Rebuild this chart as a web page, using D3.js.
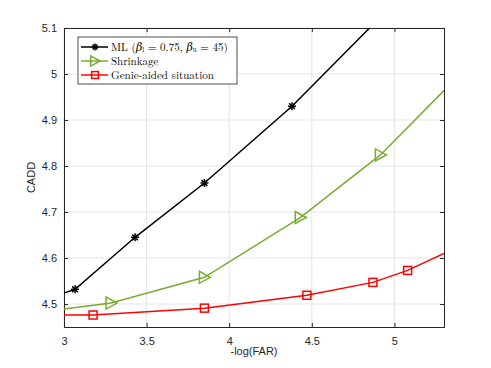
<!DOCTYPE html>
<html>
<head>
<meta charset="utf-8">
<script src="https://cdn.jsdelivr.net/npm/d3@7"></script>
<style>
  body { margin: 0; background: #fff; }
  svg text { font-family: Helvetica, Arial, "Liberation Sans", sans-serif; }
</style>
</head>
<body>
<script>
// series data
const mlX = [3.0, 3.067, 3.43, 3.85, 4.38, 4.96]
const mlY = [4.524, 4.532, 4.645, 4.763, 4.93, 5.14]
const mlMarkX = [3.067, 3.43, 3.85, 4.38]
const mlMarkY = [4.532, 4.645, 4.763, 4.93]

const shX = [3.0, 3.285, 3.85, 4.43, 4.915, 5.3]
const shY = [4.489, 4.502, 4.558, 4.688, 4.824, 4.964]
const shMarkX = [3.285, 3.85, 4.43, 4.915]
const shMarkY = [4.502, 4.558, 4.688, 4.824]

const gaX = [3.0, 3.176, 3.85, 4.47, 4.87, 5.08, 5.3]
const gaY = [4.476, 4.476, 4.491, 4.519, 4.547, 4.573, 4.610]
const gaMarkX = [3.176, 3.85, 4.47, 4.87, 5.08]
const gaMarkY = [4.476, 4.491, 4.519, 4.547, 4.573]

const xTicks = [3, 3.5, 4, 4.5, 5]
const yTicks = [4.5, 4.6, 4.7, 4.8, 4.9, 5, 5.1]

const W = 491, H = 368
const pLeft = 64, pRight = 444, pTop = 28, pBottom = 327
const axisColor = '#262626'

const x = d3.scaleLinear().domain([3, 5.3]).range([pLeft, pRight])
const y = d3.scaleLinear().domain([4.45, 5.1]).range([pBottom, pTop])

const svg = d3.select('body').append('svg').attr('width', W).attr('height', H)

svg.append('defs').append('clipPath').attr('id', 'plot')
  .append('rect').attr('x', pLeft).attr('y', pTop).attr('width', pRight - pLeft).attr('height', pBottom - pTop)

// grid
const grid = svg.append('g').attr('stroke', '#e5e5e5').attr('stroke-width', 1)
xTicks.forEach(t => grid.append('line').attr('x1', x(t)).attr('x2', x(t)).attr('y1', pTop).attr('y2', pBottom))
yTicks.forEach(t => grid.append('line').attr('x1', pLeft).attr('x2', pRight).attr('y1', y(t)).attr('y2', y(t)))

// axes (ticks inside, box)
const xAxis = svg.append('g').attr('transform', `translate(0,${pBottom})`)
  .call(d3.axisBottom(x).tickValues(xTicks).tickSize(-4).tickPadding(10).tickFormat(d3.format('')))
const yAxis = svg.append('g').attr('transform', `translate(${pLeft},0)`)
  .call(d3.axisLeft(y).tickValues(yTicks).tickSize(-4).tickPadding(7).tickFormat(d3.format('')))
const xTop = svg.append('g').attr('transform', `translate(0,${pTop})`)
  .call(d3.axisTop(x).tickValues(xTicks).tickSize(-4).tickFormat(''))
const yRight = svg.append('g').attr('transform', `translate(${pRight},0)`)
  .call(d3.axisRight(y).tickValues(yTicks).tickSize(-4).tickFormat(''))

;[xAxis, yAxis, xTop, yRight].forEach(g => {
  g.select('.domain').attr('stroke', axisColor).attr('stroke-width', 1)
  g.selectAll('.tick line').attr('stroke', axisColor)
  g.selectAll('text').attr('fill', axisColor).style('font-size', '11px')
})

svg.append('text').attr('x', (pLeft + pRight) / 2).attr('y', 355)
  .attr('text-anchor', 'middle').attr('fill', axisColor).style('font-size', '11px').text('-log(FAR)')
svg.append('text').attr('transform', `translate(35,${(pTop + pBottom) / 2}) rotate(-90)`)
  .attr('text-anchor', 'middle').attr('fill', axisColor).style('font-size', '11px').text('CADD')

// markers (k scales the size)
const asterisk = (g, cx, cy, color, k = 1) => {
  const r = 4 * k
  const m = g.append('g').attr('stroke', color).attr('stroke-width', 1.5)
  m.append('line').attr('x1', cx - r).attr('x2', cx + r).attr('y1', cy).attr('y2', cy)
  m.append('line').attr('x1', cx).attr('x2', cx).attr('y1', cy - r).attr('y2', cy + r)
  const d = r * 0.72
  m.append('line').attr('x1', cx - d).attr('x2', cx + d).attr('y1', cy - d).attr('y2', cy + d)
  m.append('line').attr('x1', cx - d).attr('x2', cx + d).attr('y1', cy + d).attr('y2', cy - d)
}
const triangle = (g, cx, cy, color, k = 1) => {
  g.append('path').attr('d', `M${cx + 6 * k},${cy} L${cx - 5 * k},${cy - 6 * k} L${cx - 5 * k},${cy + 6 * k} Z`)
    .attr('fill', 'none').attr('stroke', color).attr('stroke-width', 1.5)
}
const square = (g, cx, cy, color, k = 1) => {
  const h = 4 * k
  g.append('rect').attr('x', cx - h).attr('y', cy - h).attr('width', 2 * h).attr('height', 2 * h)
    .attr('fill', 'none').attr('stroke', color).attr('stroke-width', 1.5)
}

const series = [
  { xs: mlX, ys: mlY, mx: mlMarkX, my: mlMarkY, color: '#000000', marker: asterisk },
  { xs: shX, ys: shY, mx: shMarkX, my: shMarkY, color: '#77ac30', marker: triangle },
  { xs: gaX, ys: gaY, mx: gaMarkX, my: gaMarkY, color: '#ff0000', marker: square }
]

const plot = svg.append('g').attr('clip-path', 'url(#plot)')
const line = d3.line().x(d => x(d[0])).y(d => y(d[1]))

series.forEach(s => {
  plot.append('path').datum(d3.zip(s.xs, s.ys)).attr('d', line)
    .attr('fill', 'none').attr('stroke', s.color).attr('stroke-width', 1.5)
  s.mx.forEach((v, i) => s.marker(plot, x(v), y(s.my[i]), s.color))
})

// legend
const lg = svg.append('g')
lg.append('rect').attr('x', 78).attr('y', 37).attr('width', 159).attr('height', 47)
  .attr('fill', '#fff').attr('stroke', axisColor).attr('stroke-width', 0.8)
const rows = [47, 61, 75]
series.forEach((s, i) => {
  const yy = rows[i]
  lg.append('line').attr('x1', 81).attr('x2', 108).attr('y1', yy).attr('y2', yy)
    .attr('stroke', s.color).attr('stroke-width', 1.5)
  s.marker(lg, 95, yy, s.color, 0.85)
})
const serif = 'Latin Modern Roman, "DejaVu Serif", "Liberation Serif", serif'
const t0 = lg.append('text').attr('x', 111).attr('y', rows[0] + 3.5).style('font-family', serif).style('font-size', '11px')
t0.append('tspan').text('ML (')
t0.append('tspan').style('font-style', 'italic').text('β')
t0.append('tspan').attr('dy', 1.5).style('font-size', '7px').text('l')
t0.append('tspan').attr('dy', -1.5).text(' = 0.75,  ')
t0.append('tspan').style('font-style', 'italic').text('β')
t0.append('tspan').attr('dy', 1.5).style('font-size', '7px').text('u')
t0.append('tspan').attr('dy', -1.5).text(' = 45)')
lg.append('text').attr('x', 111).attr('y', rows[1] + 4).style('font-family', serif).style('font-size', '11px').text('Shrinkage')
lg.append('text').attr('x', 111).attr('y', rows[2] + 4).style('font-family', serif).style('font-size', '11px').text('Genie-aided situation')
</script>
</body>
</html>
